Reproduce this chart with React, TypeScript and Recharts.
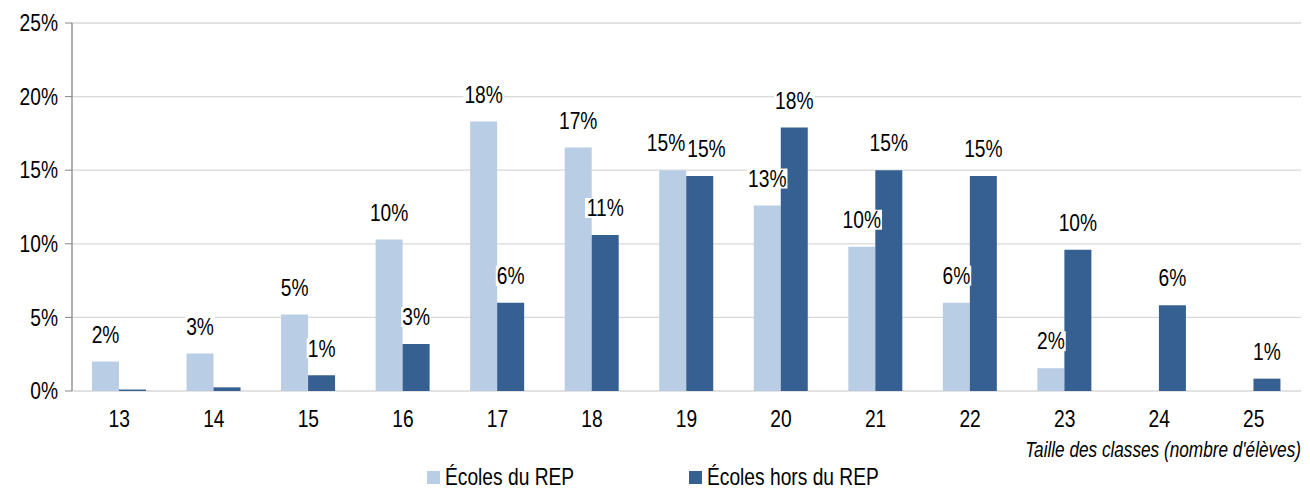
import React from 'react';
import { BarChart, Bar, XAxis, YAxis, CartesianGrid, LabelList, Legend, Label } from 'recharts';

const categories = ['13', '14', '15', '16', '17', '18', '19', '20', '21', '22', '23', '24', '25'];
const ecolesREP = [2.0, 2.55, 5.2, 10.3, 18.3, 16.55, 15.0, 12.6, 9.8, 6.0, 1.55, 0, 0];
const ecolesHorsREP = [0.1, 0.25, 1.07, 3.2, 6.0, 10.6, 14.6, 17.9, 15.0, 14.6, 9.6, 5.83, 0.84];
const yTicks = [0, 5, 10, 15, 20, 25];
const seriesNames = ['Écoles du REP', 'Écoles hors du REP'];
const axisTitle = "Taille des classes (nombre d'élèves)";

const LIGHT = '#B9CDE5';
const DARK = '#376092';
const FONT = "'Liberation Sans', Arial, sans-serif";
const SX = 0.8; // horizontal condensing to mimic Arial Narrow
const FS = 24;

const data = categories.map((c, i) => ({ cat: c, rep: ecolesREP[i], hors: ecolesHorsREP[i] }));
const boundaryTicks = categories.map((_, i) => i).concat([categories.length]);

// approximate narrow text width
const textWidth = (s: string, fs: number) => {
  let w = 0;
  for (const ch of s) w += ch === '%' ? 0.889 : 0.556;
  return w * fs * SX;
};

const labelText = (v: number | null | undefined) => {
  if (v == null) return null;
  const r = Math.round(v);
  return r > 0 ? `${r}%` : null;
};

const LABEL_GAP = 27;

const makeLabel = (series: 'rep' | 'hors') => (props: any) => {
  const { x, y, width, value, index } = props;
  const txt = labelText(value);
  if (!txt) return null;
  let cx = x + width / 2;
  const cy = y - LABEL_GAP;
  // collision avoidance with the sibling label of the same category
  const row = data[index];
  const other = series === 'rep' ? row.hors : row.rep;
  const otherTxt = labelText(other);
  if (otherTxt) {
    const own = series === 'rep' ? row.rep : row.hors;
    const dyPx = Math.abs(own - other) * 14.7;
    if (dyPx < 20) {
      const need = (textWidth(txt, FS) + textWidth(otherTxt, FS)) / 2 + 2 - width;
      if (need > 0) cx += series === 'rep' ? -need / 2 : need / 2;
    }
  }
  const w = textWidth(txt, FS) + 2;
  return (
    <g>
      <rect x={cx - w / 2} y={cy - 10} width={w} height={20} fill="#ffffff" />
      <text
        transform={`translate(${cx},${cy}) scale(${SX},1)`}
        x={0}
        y={0}
        textAnchor="middle"
        dominantBaseline="central"
        fontSize={FS}
        fontFamily={FONT}
        fill="#000"
      >
        {txt}
      </text>
    </g>
  );
};

const YTick = (props: any) => {
  const { x, y, payload } = props;
  return (
    <text
      transform={`translate(${x},${y}) scale(${SX},1)`}
      x={0}
      y={0}
      textAnchor="end"
      dominantBaseline="central"
      fontSize={FS}
      fontFamily={FONT}
      fill="#000"
    >
      {`${payload.value}%`}
    </text>
  );
};

const XTick = (props: any) => {
  const { x, y, payload } = props;
  return (
    <text
      transform={`translate(${x},${y}) scale(${SX},1)`}
      x={0}
      y={0}
      dy="0.72em"
      textAnchor="middle"
      fontSize={FS}
      fontFamily={FONT}
      fill="#000"
    >
      {payload.value}
    </text>
  );
};

const AxisTitle = (props: any) => {
  const { viewBox } = props;
  const x = viewBox.x + viewBox.width;
  const y = viewBox.y + viewBox.height;
  return (
    <text
      transform={`translate(${x},${y}) scale(${SX},1)`}
      x={0}
      y={0}
      textAnchor="end"
      fontSize={21.5}
      fontStyle="italic"
      fontFamily={FONT}
      fill="#000"
    >
      {axisTitle}
    </text>
  );
};

const legendPos = [
  { sw: 427, tx: 445 },
  { sw: 689, tx: 707 },
];

const renderLegend = () => (
  <div style={{ position: 'relative', width: 1310, height: 24, fontFamily: FONT, fontSize: 24, color: '#000' }}>
    {seriesNames.map((n, i) => (
      <React.Fragment key={n}>
        <span
          style={{ position: 'absolute', left: legendPos[i].sw, top: 6, width: 13, height: 13, background: i === 0 ? LIGHT : DARK }}
        />
        <span
          style={{
            position: 'absolute',
            left: legendPos[i].tx,
            top: 0,
            lineHeight: '24px',
            whiteSpace: 'nowrap',
            transform: `scaleX(${SX})`,
            transformOrigin: 'left center',
          }}
        >
          {n}
        </span>
      </React.Fragment>
    ))}
  </div>
);

export default function App() {
  return (
    <div style={{ position: 'absolute', left: 0, top: 0, background: '#fff' }}>
      <BarChart
        width={1310}
        height={489}
        data={data}
        margin={{ top: 23, right: 9, left: 0, bottom: 32 }}
        barGap={0}
        barSize={27}
      >
        <CartesianGrid horizontal vertical={false} stroke="#D9D9D9" strokeWidth={1.3} />
        <XAxis
          xAxisId="b"
          type="number"
          domain={[0, categories.length]}
          ticks={boundaryTicks}
          allowDataOverflow
          height={0}
          tick={false}
          tickSize={6}
          tickLine={{ stroke: '#868686' }}
          axisLine={{ stroke: '#868686', strokeWidth: 1.3 }}
        />
        <XAxis
          dataKey="cat"
          height={66}
          axisLine={false}
          tickLine={false}
          tickMargin={13}
          tickSize={6}
          tick={<XTick />}
        >
          <Label content={<AxisTitle />} position="insideBottomRight" />
        </XAxis>
        <YAxis
          width={72}
          domain={[0, 25]}
          ticks={yTicks}
          tickSize={7}
          tickMargin={7}
          tickLine={{ stroke: '#868686' }}
          axisLine={{ stroke: '#868686', strokeWidth: 1.3 }}
          tick={<YTick />}
        />
        <Legend
          layout="horizontal"
          verticalAlign="middle"
          align="center"
          wrapperStyle={{ top: 465, left: 0, width: 1310 }}
          content={renderLegend}
        />
        <Bar dataKey="rep" name={seriesNames[0]} fill={LIGHT} isAnimationActive={false}>
          <LabelList dataKey="rep" content={makeLabel('rep')} />
        </Bar>
        <Bar dataKey="hors" name={seriesNames[1]} fill={DARK} isAnimationActive={false}>
          <LabelList dataKey="hors" content={makeLabel('hors')} />
        </Bar>
      </BarChart>
    </div>
  );
}
